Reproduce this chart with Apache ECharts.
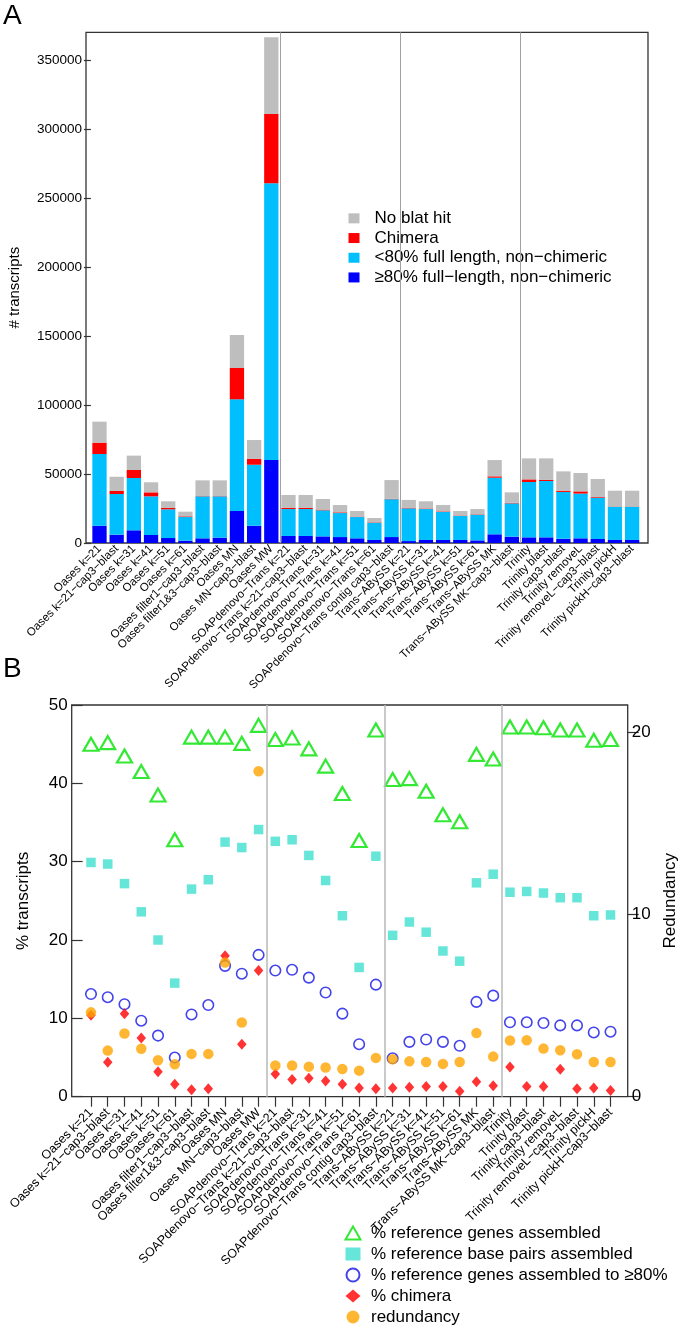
<!DOCTYPE html>
<html lang="en">
<head>
<meta charset="UTF-8">
<title>Transcript assembly comparison</title>
<style>
    html, body { margin: 0; padding: 0; background: #fff; }
    #main { width: 685px; height: 1327px; }
</style>
<script src="https://cdn.jsdelivr.net/npm/echarts@6/dist/echarts.min.js"></script>
</head>
<body>
<div id="main"></div>
<script type="text/javascript">

// assemblies, same order in both panels
var categories = [
    'Oases k=21', 'Oases k=21−cap3−blast', 'Oases k=31', 'Oases k=41', 'Oases k=51', 'Oases k=61',
    'Oases filter1−cap3−blast', 'Oases filter1&3−cap3−blast', 'Oases MN', 'Oases MN−cap3−blast', 'Oases MW',
    'SOAPdenovo−Trans k=21', 'SOAPdenovo−Trans k=21−cap3−blast', 'SOAPdenovo−Trans k=31',
    'SOAPdenovo−Trans k=41', 'SOAPdenovo−Trans k=51', 'SOAPdenovo−Trans k=61',
    'SOAPdenovo−Trans contig cap3−blast',
    'Trans−ABySS k=21', 'Trans−ABySS k=31', 'Trans−ABySS k=41', 'Trans−ABySS k=51', 'Trans−ABySS k=61',
    'Trans−ABySS MK', 'Trans−ABySS MK−cap3−blast',
    'Trinity', 'Trinity blast', 'Trinity cap3−blast', 'Trinity removeL', 'Trinity removeL−cap3−blast',
    'Trinity pickH', 'Trinity pickH−cap3−blast'
];
// first category of each assembler group (a grey divider is drawn before it)
var groupStarts = [11, 18, 25];

// panel A: # transcripts per stack segment
var full80 = [12500, 6000, 9200, 5800, 3600, 1700, 3400, 3900, 23200, 12500, 60100,
    5100, 5100, 4800, 4300, 3400, 2200, 4300,
    1400, 2200, 2200, 2200, 1900, 6300, 4600,
    4100, 4100, 3100, 3400, 2900, 2200, 2200];
var partial = [52000, 29500, 37900, 28000, 20800, 17100, 30400, 29900, 80900, 44200, 200500,
    19500, 19500, 18900, 17400, 15400, 12500, 27400,
    23700, 22400, 20300, 17400, 18600, 41000, 24100,
    40100, 40800, 33900, 32400, 29900, 24100, 24100];
var chimera = [8200, 2200, 5800, 2900, 1000, 500, 200, 200, 22700, 4200, 50200,
    800, 800, 500, 500, 300, 300, 300,
    500, 400, 400, 300, 300, 1000, 400,
    1900, 800, 900, 1600, 500, 200, 200];
var noHit = [15200, 10300, 10400, 7300, 4800, 3400, 11400, 11400, 23900, 13700, 55600,
    9400, 9400, 7700, 5300, 4100, 3100, 13600,
    5600, 5200, 4600, 3300, 3800, 11800, 7600,
    15200, 15600, 14000, 13300, 13100, 11400, 11400];
var yTicksA = [0, 50000, 100000, 150000, 200000, 250000, 300000, 350000];

// panel B: percentages (left axis) and redundancy (right axis)
var pctGenes = [45.0, 45.2, 43.5, 41.5, 38.5, 32.8, 45.9, 45.9, 45.9, 45.1, 47.4,
    45.6, 45.8, 44.4, 42.2, 38.7, 32.7, 46.8,
    40.5, 40.6, 39.0, 36.0, 35.1, 43.7, 43.1,
    47.2, 47.2, 47.1, 46.8, 46.8, 45.5, 45.6];
var pctBases = [29.9, 29.7, 27.2, 23.6, 20.0, 14.5, 26.5, 27.7, 32.5, 31.8, 34.1,
    32.6, 32.8, 30.8, 27.6, 23.1, 16.5, 30.7,
    20.6, 22.3, 21.0, 18.6, 17.3, 27.3, 28.4,
    26.1, 26.2, 26.0, 25.4, 25.4, 23.1, 23.2];
var pctGenes80 = [13.1, 12.7, 11.8, 9.7, 7.8, 5.0, 10.5, 11.7, 16.7, 15.7, 18.1,
    16.1, 16.2, 15.2, 13.3, 10.6, 6.7, 14.3,
    4.9, 7.0, 7.3, 7.0, 6.5, 12.1, 12.9,
    9.5, 9.5, 9.4, 9.1, 9.1, 8.2, 8.3];
var pctChimera = [10.4, 4.4, 10.6, 7.5, 3.2, 1.6, 0.9, 1.0, 18.0, 6.7, 16.1,
    2.9, 2.2, 2.35, 2.0, 1.6, 1.1, 1.0,
    1.1, 1.2, 1.3, 1.3, 0.7, 1.9, 1.4,
    3.8, 1.3, 1.3, 3.5, 1.0, 1.1, 0.8];
var redundancy = [4.63, 2.53, 3.47, 2.63, 2.0, 1.78, 2.35, 2.35, 7.36, 4.07, 17.86,
    1.71, 1.71, 1.65, 1.6, 1.52, 1.43, 2.13,
    2.06, 1.94, 1.9, 1.8, 1.9, 3.49, 2.2,
    3.08, 3.1, 2.64, 2.55, 2.33, 1.9, 1.9];
var yTicksB = [0, 10, 20, 30, 40, 50];
var yTicksRedundancy = [0, 10, 20];

var FONT = '"Liberation Sans", Arial, Helvetica, sans-serif';

var myChart = echarts.init(document.getElementById('main'));

function stackBar(name, values, color) {
    return {
        name: name, type: 'bar', stack: 'transcripts',
        xAxisIndex: 0, yAxisIndex: 0,
        barWidth: 14.3,
        itemStyle: { color: color },
        silent: true,
        data: values
    };
}

// grey group dividers, put on a hidden 0..n value axis so they fall between bars
function dividers(xIdx, yIdx, color, width) {
    return {
        type: 'line', xAxisIndex: xIdx, yAxisIndex: yIdx, data: [], silent: true,
        markLine: {
            silent: true, symbol: 'none', animation: false,
            label: { show: false },
            lineStyle: { color: color, width: width, type: 'solid' },
            data: groupStarts.map(function (i) { return { xAxis: i }; })
        }
    };
}

function plainNumber(v) { return String(v); }

var option = {
    animation: false,
    backgroundColor: '#ffffff',
    textStyle: { fontFamily: FONT, color: '#000' },
    title: [
        { text: 'A', left: 3, top: 2, padding: 0, textStyle: { fontSize: 28, fontWeight: 'normal', fontFamily: FONT, color: '#000' } },
        { text: 'B', left: 3, top: 655, padding: 0, textStyle: { fontSize: 28, fontWeight: 'normal', fontFamily: FONT, color: '#000' } }
    ],
    grid: [
        // frame of panel A
        { left: 86, right: 37, top: 32.3, bottom: 784, show: true, borderColor: '#333', borderWidth: 1.3, backgroundColor: 'transparent', outerBoundsMode: 'none' },
        // bars of panel A
        { left: 90.9, right: 44.3, top: 32.3, bottom: 784, outerBoundsMode: 'none' },
        // frame of panel B
        { left: 71.7, right: 57.3, top: 705, bottom: 230.3, show: true, borderColor: '#333', borderWidth: 1.3, backgroundColor: 'transparent', outerBoundsMode: 'none' },
        // points of panel B
        { left: 82.6, right: 66.1, top: 705, bottom: 230.3, outerBoundsMode: 'none' }
    ],
    legend: [
        {
            orient: 'vertical', left: 348.5, top: 208.5, height: 100, padding: 0, itemGap: 0,
            itemWidth: 11, itemHeight: 10, icon: 'rect', selectedMode: false,
            data: ['No blat hit', 'Chimera', '<80% full length, non−chimeric', '≥80% full−length, non−chimeric'],
            textStyle: { fontSize: 17, lineHeight: 19.7, fontFamily: FONT, color: '#000', padding: [0, 0, 0, 10] }
        },
        {
            orient: 'vertical', left: 344.5, top: 1222.5, height: 130, padding: 0, itemGap: 0,
            itemWidth: 15, itemHeight: 13, selectedMode: false,
            data: ['% reference genes assembled', '% reference base pairs assembled',
                '% reference genes assembled to ≥80%', '% chimera', 'redundancy'],
            textStyle: { fontSize: 17, lineHeight: 21, fontFamily: FONT, color: '#000', padding: [0, 0, 0, 5.5] }
        }
    ],
    xAxis: [
        {
            type: 'category', gridIndex: 1, data: categories, boundaryGap: true,
            axisLine: { show: false }, axisTick: { show: false },
            axisLabel: { interval: 0, rotate: 45, margin: 4, fontSize: 11.5, fontFamily: FONT, color: '#000' },
            splitLine: { show: false }
        },
        {
            type: 'category', gridIndex: 3, data: categories, boundaryGap: true,
            axisLine: { show: false },
            axisTick: { show: true, interval: 0, alignWithLabel: true, length: 10, lineStyle: { color: '#333', width: 1.2 } },
            axisLabel: { interval: 0, rotate: 45, margin: 14, fontSize: 12.5, fontFamily: FONT, color: '#000' },
            splitLine: { show: false }
        },
        { type: 'value', gridIndex: 1, min: 0, max: categories.length, show: false },
        { type: 'value', gridIndex: 3, min: 0, max: categories.length, show: false }
    ],
    yAxis: [
        {
            type: 'value', gridIndex: 1, position: 'left', offset: 4.9,
            min: 0, max: 370000,
            name: '# transcripts', nameLocation: 'middle', nameRotate: 90, nameGap: 64,
            nameTextStyle: { fontSize: 15, fontFamily: FONT, color: '#000' },
            axisLine: { show: false },
            axisTick: { show: true, length: 7, customValues: yTicksA, lineStyle: { color: '#333', width: 1.2 } },
            axisLabel: { customValues: yTicksA, formatter: plainNumber, margin: 4, fontSize: 13.5, fontFamily: FONT, color: '#000' },
            splitLine: { show: false }
        },
        {
            type: 'value', gridIndex: 3, position: 'left', offset: 10.9,
            min: 0, max: 50,
            name: '% transcripts', nameLocation: 'middle', nameRotate: 90, nameGap: 40,
            nameTextStyle: { fontSize: 17, fontFamily: FONT, color: '#000' },
            axisLine: { show: false },
            axisTick: { show: true, length: 11, customValues: yTicksB, lineStyle: { color: '#333', width: 1.2 } },
            axisLabel: { customValues: yTicksB, margin: 4, fontSize: 17, fontFamily: FONT, color: '#000' },
            splitLine: { show: false }
        },
        {
            type: 'value', gridIndex: 3, position: 'right', offset: 8.8,
            min: 0, max: 21.5,
            name: 'Redundancy', nameLocation: 'middle', nameRotate: 90, nameGap: 34,
            nameTextStyle: { fontSize: 17, fontFamily: FONT, color: '#000' },
            axisLine: { show: false },
            axisTick: { show: true, length: 11, customValues: yTicksRedundancy, lineStyle: { color: '#333', width: 1.2 } },
            axisLabel: { customValues: yTicksRedundancy, margin: 4, fontSize: 17, fontFamily: FONT, color: '#000' },
            splitLine: { show: false }
        }
    ],
    series: [
        dividers(2, 0, '#a0a0a0', 1),
        dividers(3, 1, '#bdbdbd', 1.6),
        stackBar('≥80% full−length, non−chimeric', full80, '#0000ff'),
        stackBar('<80% full length, non−chimeric', partial, '#00bfff'),
        stackBar('Chimera', chimera, '#ff0000'),
        stackBar('No blat hit', noHit, '#bebebe'),
        {
            name: '% reference genes assembled', type: 'scatter', xAxisIndex: 1, yAxisIndex: 1,
            symbol: 'triangle', symbolSize: [15, 13], silent: true,
            itemStyle: { color: 'rgba(255,255,255,0)', borderColor: '#00e400', borderWidth: 2.2 },
            data: pctGenes
        },
        {
            name: '% reference base pairs assembled', type: 'scatter', xAxisIndex: 1, yAxisIndex: 1,
            symbol: 'rect', symbolSize: 9.5, silent: true,
            itemStyle: { color: '#40e0d0' },
            data: pctBases
        },
        {
            name: '% reference genes assembled to ≥80%', type: 'scatter', xAxisIndex: 1, yAxisIndex: 1,
            symbol: 'circle', symbolSize: 10.5, silent: true,
            itemStyle: { color: 'rgba(255,255,255,0)', borderColor: '#1414e6', borderWidth: 1.6 },
            data: pctGenes80
        },
        {
            name: '% chimera', type: 'scatter', xAxisIndex: 1, yAxisIndex: 1,
            symbol: 'diamond', symbolSize: [9.5, 11], silent: true,
            itemStyle: { color: '#ff0000' },
            data: pctChimera
        },
        {
            name: 'redundancy', type: 'scatter', xAxisIndex: 1, yAxisIndex: 2,
            symbol: 'circle', symbolSize: 10.5, silent: true,
            itemStyle: { color: '#ffa500' },
            data: redundancy
        }
    ]
};

myChart.setOption(option);

</script>
</body>
</html>
